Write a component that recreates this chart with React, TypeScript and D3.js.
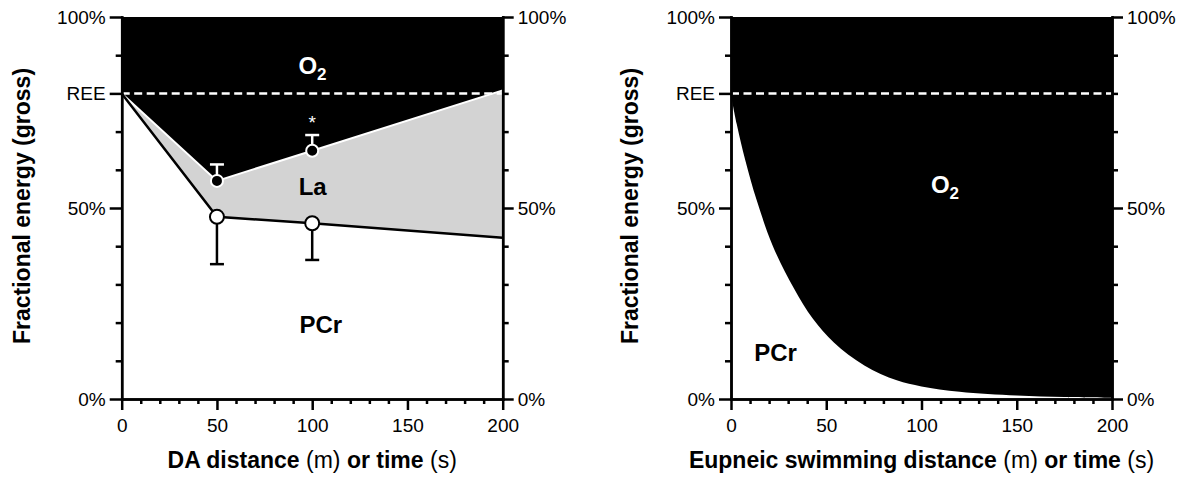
import * as d3 from 'd3';
import {useEffect, useRef} from 'react';

const width = 1189;
const height = 477;
const FONT = 'Arial, "Liberation Sans", Helvetica, sans-serif';

// left panel: dive (DA) distance
const daDist = [0, 50, 100, 200];
const daLaTop = [80, 57.1, 65.0, 80.8];
const daPcrTop = [80, 47.7, 46.0, 42.2];
const daPointDist = [50, 100];
const daLaMean = [57.1, 65.0];
const daLaUpper = [61.4, 69.1];
const daPcrMean = [47.7, 46.0];
const daPcrLower = [35.3, 36.4];

// right panel: eupneic swimming, PCr share
const eupDist = [0, 3, 7.5, 13.5, 22, 33, 43, 54, 70, 87, 100, 120, 150, 175, 200];
const eupPcrTop = [79.5, 72, 62.5, 52, 40, 29, 21, 14.8, 8.8, 4.9, 3.3, 1.9, 0.9, 0.5, 0.3];

const ree = 80;
const xMajor = [0, 50, 100, 150, 200];
const xMinor = [10, 20, 30, 40, 60, 70, 80, 90, 110, 120, 130, 140, 160, 170, 180, 190];
const yMajorLeft = [0, 50, 80, 100];
const yMinorLeft = [10, 20, 30, 40, 60, 70, 90];
const yMajorRight = [0, 50, 100];
const yMinorRight = [10, 20, 30, 40, 60, 70, 80, 90];

const yTickLabel = v => (v === ree ? 'REE' : `${v}%`);

function drawAxes(svg, x, y) {
  const style = g => {
    g.attr('font-size', 19).attr('font-family', FONT);
    g.selectAll('line').attr('stroke-width', 2.5);
    g.select('.domain').attr('stroke-width', 2.5).attr('stroke-linecap', 'square');
    g.selectAll('text').attr('fill', '#000');
  };
  const bottom = `translate(0,${y(0)})`;
  const left = `translate(${x(0)},0)`;
  const right = `translate(${x(200)},0)`;

  svg.append('g').attr('transform', bottom)
    .call(d3.axisBottom(x).tickValues(xMinor).tickSize(5).tickSizeOuter(0).tickFormat(() => ''))
    .call(style);
  svg.append('g').attr('transform', bottom)
    .call(d3.axisBottom(x).tickValues(xMajor).tickSize(11).tickSizeOuter(0).tickPadding(9))
    .call(style);

  svg.append('g').attr('transform', left)
    .call(d3.axisLeft(y).tickValues(yMinorLeft).tickSize(6).tickSizeOuter(0).tickFormat(() => ''))
    .call(style);
  svg.append('g').attr('transform', left)
    .call(d3.axisLeft(y).tickValues(yMajorLeft).tickSize(12).tickSizeOuter(0).tickPadding(4).tickFormat(yTickLabel))
    .call(style);

  svg.append('g').attr('transform', right)
    .call(d3.axisRight(y).tickValues(yMinorRight).tickSize(6).tickSizeOuter(0).tickFormat(() => ''))
    .call(style);
  svg.append('g').attr('transform', right)
    .call(d3.axisRight(y).tickValues(yMajorRight).tickSize(11).tickSizeOuter(0).tickPadding(4).tickFormat(v => `${v}%`))
    .call(style);
}

function xTitle(svg, cx, parts) {
  const t = svg.append('text')
    .attr('x', cx)
    .attr('y', 468)
    .attr('text-anchor', 'middle')
    .attr('font-size', 23)
    .attr('font-family', FONT)
    .style('white-space', 'pre');
  parts.forEach(([s, w]) => t.append('tspan').attr('font-weight', w).text(s));
}

function yTitle(svg, bx) {
  svg.append('text')
    .attr('transform', `translate(${bx},206) rotate(-90)`)
    .attr('text-anchor', 'middle')
    .attr('font-size', 23)
    .attr('font-weight', 700)
    .attr('font-family', FONT)
    .text('Fractional energy (gross)');
}

function label(svg, x, y, s, color, sub) {
  const t = svg.append('text')
    .attr('x', x)
    .attr('y', y)
    .attr('text-anchor', 'middle')
    .attr('font-size', 24)
    .attr('font-weight', 700)
    .attr('font-family', FONT)
    .attr('fill', color)
    .text(s);
  if (sub) t.append('tspan').attr('dy', 6).attr('font-size', 17).text(sub);
}

function App() {
  const ref = useRef();

  useEffect(() => {
    const svg = d3.select(ref.current)
      .append('svg')
      .attr('width', width)
      .attr('height', height)
      .style('display', 'block')
      .style('background', '#fff');

    const y = d3.scaleLinear().domain([0, 100]).range([399, 17]);

    // ---- left panel ----
    const xa = d3.scaleLinear().domain([0, 200]).range([121.7, 502.7]);
    const pts = daDist.map((d, i) => ({d, la: daLaTop[i], pcr: daPcrTop[i]}));

    svg.append('path').datum(pts)
      .attr('fill', '#000')
      .attr('d', d3.area().x(p => xa(p.d)).y0(y(100)).y1(p => y(p.la)));
    svg.append('path').datum(pts)
      .attr('fill', '#d3d3d3')
      .attr('d', d3.area().x(p => xa(p.d)).y0(p => y(p.pcr)).y1(p => y(p.la)));

    svg.append('line')
      .attr('x1', xa(0)).attr('x2', xa(200))
      .attr('y1', y(ree)).attr('y2', y(ree))
      .attr('stroke', '#fff').attr('stroke-width', 2.5).attr('stroke-dasharray', '8,4.5');

    svg.append('path').datum(pts)
      .attr('fill', 'none').attr('stroke', '#fff').attr('stroke-width', 2)
      .attr('d', d3.line().x(p => xa(p.d)).y(p => y(p.la)));
    svg.append('path').datum(pts)
      .attr('fill', 'none').attr('stroke', '#000').attr('stroke-width', 2.5)
      .attr('d', d3.line().x(p => xa(p.d)).y(p => y(p.pcr)));

    daPointDist.forEach((d, i) => {
      const cx = xa(d);
      // La: upper error bar, white on black
      svg.append('line').attr('x1', cx).attr('x2', cx).attr('y1', y(daLaMean[i])).attr('y2', y(daLaUpper[i]))
        .attr('stroke', '#fff').attr('stroke-width', 2.5);
      svg.append('line').attr('x1', cx - 7).attr('x2', cx + 7).attr('y1', y(daLaUpper[i])).attr('y2', y(daLaUpper[i]))
        .attr('stroke', '#fff').attr('stroke-width', 2.5);
      // PCr: lower error bar
      svg.append('line').attr('x1', cx).attr('x2', cx).attr('y1', y(daPcrMean[i])).attr('y2', y(daPcrLower[i]))
        .attr('stroke', '#000').attr('stroke-width', 2.5);
      svg.append('line').attr('x1', cx - 7).attr('x2', cx + 7).attr('y1', y(daPcrLower[i])).attr('y2', y(daPcrLower[i]))
        .attr('stroke', '#000').attr('stroke-width', 2.5);

      svg.append('circle').attr('cx', cx).attr('cy', y(daLaMean[i])).attr('r', 6)
        .attr('fill', '#000').attr('stroke', '#fff').attr('stroke-width', 2);
      svg.append('circle').attr('cx', cx).attr('cy', y(daPcrMean[i])).attr('r', 7)
        .attr('fill', '#fff').attr('stroke', '#000').attr('stroke-width', 2);
    });

    svg.append('text')
      .attr('x', xa(100)).attr('y', 129)
      .attr('text-anchor', 'middle')
      .attr('font-size', 19).attr('font-family', FONT).attr('fill', '#fff')
      .text('*');

    drawAxes(svg, xa, y);
    label(svg, 312.5, 74, 'O', '#fff', '2');
    label(svg, 312.7, 195, 'La', '#000');
    label(svg, 320.8, 333, 'PCr', '#000');
    yTitle(svg, 30);
    xTitle(svg, 312.2, [['DA distance', 700], [' (m)', 400], [' or time', 700], [' (s)', 400]]);

    // ---- right panel ----
    const xb = d3.scaleLinear().domain([0, 200]).range([731, 1112]);
    const curve = eupDist.map((d, i) => ({d, v: eupPcrTop[i]}));

    svg.append('path').datum(curve)
      .attr('fill', '#000')
      .attr('d', d3.area().curve(d3.curveCatmullRom.alpha(0.5)).x(p => xb(p.d)).y0(y(100)).y1(p => y(p.v)));

    svg.append('line')
      .attr('x1', xb(0)).attr('x2', xb(200))
      .attr('y1', y(ree)).attr('y2', y(ree))
      .attr('stroke', '#fff').attr('stroke-width', 2.5).attr('stroke-dasharray', '8,4.5');

    drawAxes(svg, xb, y);
    label(svg, 945, 193, 'O', '#fff', '2');
    label(svg, 775.5, 361, 'PCr', '#000');
    yTitle(svg, 638);
    xTitle(svg, 921.5, [['Eupneic swimming distance', 700], [' (m)', 400], [' or time', 700], [' (s)', 400]]);

    return () => svg.remove();
  }, []);

  return <div ref={ref} style={{position: 'absolute', left: 0, top: 0}}></div>;
}

export default App;
